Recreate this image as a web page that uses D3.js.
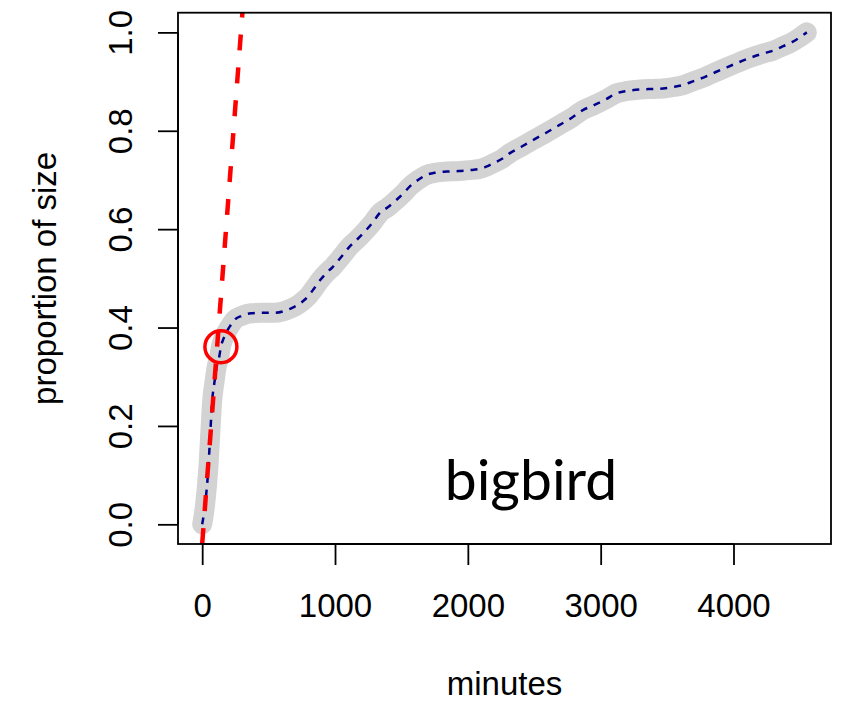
<!DOCTYPE html>
<html>
<head>
<meta charset="utf-8">
<script src="https://cdn.jsdelivr.net/npm/d3@7"></script>
<style>
  html, body { margin: 0; padding: 0; background: #fff; }
  svg { display: block; }
</style>
</head>
<body>
<script>
// Cumulative proportion of total size over elapsed minutes
const minutes = [0, 22, 47, 62, 75, 93, 109, 128, 141, 160, 178, 210, 241, 300, 367, 450, 542, 610, 669, 720,
  769, 808, 844, 890, 932, 982, 1045, 1108, 1170, 1234, 1285, 1334, 1400, 1460, 1512, 1560, 1625, 1686, 1760,
  1837, 1930, 2013, 2080, 2138, 2200, 2264, 2314, 2400, 2490, 2590, 2691, 2780, 2866, 2950, 3040, 3118, 3200,
  3300, 3400, 3470, 3550, 3621, 3700, 3790, 3872, 3950, 4030, 4123, 4210, 4300, 4375, 4440, 4500, 4552];
const proportion = [0, 0.04, 0.117, 0.19, 0.25, 0.29, 0.32, 0.34, 0.361, 0.377, 0.388, 0.403, 0.415, 0.424,
  0.429, 0.430, 0.430, 0.433, 0.439, 0.446, 0.456, 0.467, 0.48, 0.497, 0.51, 0.523, 0.543, 0.564, 0.580, 0.598,
  0.614, 0.632, 0.645, 0.659, 0.672, 0.686, 0.700, 0.710, 0.715, 0.717, 0.718, 0.720, 0.722, 0.727, 0.735,
  0.744, 0.754, 0.767, 0.781, 0.796, 0.812, 0.826, 0.842, 0.852, 0.864, 0.876, 0.881, 0.884, 0.885, 0.886,
  0.889, 0.893, 0.901, 0.910, 0.920, 0.929, 0.938, 0.948, 0.956, 0.963, 0.972, 0.980, 0.990, 1.0];

// Initial-rate line (intercept, slope per minute) and the marked break point
const rateIntercept = -0.04;
const rateSlope = 0.003564;
const breakPoint = [141, 0.361];

const xTicks = [0, 1000, 2000, 3000, 4000];
const yTicks = [0, 0.2, 0.4, 0.6, 0.8, 1.0];
const labelText = "bigbird";
const labelPos = [2475, 0.049];

const W = 842, H = 703;
const plot = { left: 178, right: 831, top: 12.7, bottom: 544 };

const svg = d3.select("body").append("svg").attr("width", W).attr("height", H);
svg.append("rect").attr("width", W).attr("height", H).attr("fill", "#fff");

const xMax = d3.max(minutes);
const x = d3.scaleLinear().domain([-0.04 * xMax, 1.04 * xMax]).range([plot.left, plot.right]);
const y = d3.scaleLinear().domain([-0.04, 1.04]).range([plot.bottom, plot.top]);

svg.append("defs").append("clipPath").attr("id", "plotClip")
  .append("rect")
  .attr("x", plot.left).attr("y", plot.top)
  .attr("width", plot.right - plot.left).attr("height", plot.bottom - plot.top);

const pts = minutes.map((m, i) => [m, proportion[i]]);
const line = d3.line().x(d => x(d[0])).y(d => y(d[1])).curve(d3.curveMonotoneX);

const g = svg.append("g").attr("clip-path", "url(#plotClip)");

// thick grey observed curve
g.append("path").datum(pts).attr("d", line)
  .attr("fill", "none").attr("stroke", "#d3d3d3").attr("stroke-width", 20)
  .attr("stroke-linecap", "round").attr("stroke-linejoin", "round");

// thin dashed smooth over it
g.append("path").datum(pts).attr("d", line)
  .attr("fill", "none").attr("stroke", "#00008b").attr("stroke-width", 2.5)
  .attr("stroke-dasharray", "7,7");

// initial-rate line across the whole y range
const yLo = y.domain()[0], yHi = y.domain()[1];
const ratePts = [[(yLo - rateIntercept) / rateSlope, yLo], [(yHi - rateIntercept) / rateSlope, yHi]];
g.append("path").datum(ratePts).attr("d", d3.line().x(d => x(d[0])).y(d => y(d[1])))
  .attr("fill", "none").attr("stroke", "#ff0000").attr("stroke-width", 4.5)
  .attr("stroke-dasharray", "16,17");

// break point marker
g.append("circle")
  .attr("cx", x(breakPoint[0])).attr("cy", y(breakPoint[1])).attr("r", 16)
  .attr("fill", "none").attr("stroke", "#ff0000").attr("stroke-width", 3.5);

// frame
svg.append("rect")
  .attr("x", plot.left).attr("y", plot.top)
  .attr("width", plot.right - plot.left).attr("height", plot.bottom - plot.top)
  .attr("fill", "none").attr("stroke", "#000").attr("stroke-width", 1.8);

// axes
const font = "'Liberation Sans', Arial, Helvetica, sans-serif";
const xAxis = svg.append("g").attr("transform", `translate(0,${plot.bottom})`)
  .call(d3.axisBottom(x).tickValues(xTicks).tickSize(21).tickSizeOuter(0).tickPadding(52).tickFormat(d3.format("d")));
xAxis.select(".domain").attr("d", `M${x(xTicks[0])},0H${x(xTicks[xTicks.length - 1])}`)
  .attr("stroke-width", 1.8);
xAxis.selectAll(".tick line").attr("stroke-width", 1.8);
xAxis.selectAll(".tick text").attr("font-family", font).attr("font-size", 33)
  .attr("fill", "#000").attr("dy", 0).attr("y", 73);

const yAxis = svg.append("g").attr("transform", `translate(${plot.left},0)`)
  .call(d3.axisLeft(y).tickValues(yTicks).tickSize(20).tickSizeOuter(0).tickFormat(d3.format(".1f")));
yAxis.select(".domain").attr("d", `M0,${y(yTicks[0])}V${y(yTicks[yTicks.length - 1])}`)
  .attr("stroke-width", 1.8);
yAxis.selectAll(".tick line").attr("stroke-width", 1.8);
yAxis.selectAll(".tick text")
  .attr("font-family", font).attr("font-size", 33).attr("fill", "#000")
  .attr("x", null).attr("dy", null).attr("text-anchor", "middle")
  .attr("transform", "translate(-46,0) rotate(-90)")
  .attr("y", 0);

// axis titles
svg.append("text")
  .attr("x", (plot.left + plot.right) / 2).attr("y", 695)
  .attr("text-anchor", "middle").attr("font-family", font).attr("font-size", 33)
  .text("minutes");
svg.append("text")
  .attr("transform", `translate(56,${(plot.top + plot.bottom) / 2}) rotate(-90)`)
  .attr("text-anchor", "middle").attr("font-family", font).attr("font-size", 33)
  .text("proportion of size");

// series label inside the plot
svg.append("text")
  .attr("x", x(labelPos[0])).attr("y", y(labelPos[1]))
  .attr("text-anchor", "middle").attr("font-family", "Lato, 'Open Sans', sans-serif")
  .attr("font-size", 57).attr("fill", "#000")
  .text(labelText);
</script>
</body>
</html>
